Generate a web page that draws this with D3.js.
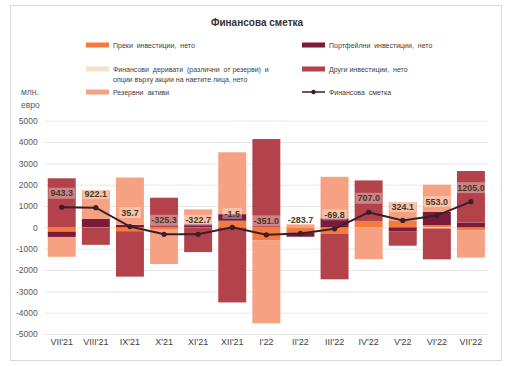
<!DOCTYPE html>
<html><head><meta charset="utf-8">
<script src="https://cdn.jsdelivr.net/npm/d3@7"></script>
<style>
html,body{margin:0;padding:0;background:#fff;}
svg{display:block;font-family:"Liberation Sans",Arial,sans-serif;}
</style></head>
<body>
<svg id="chart" width="507" height="366"></svg>
<script>
const categories = ["VII'21","VIII'21","IX'21","X'21","XI'21","XII'21","I'22","II'22","III'22","IV'22","V'22","VI'22","VII'22"];
const directInv    = [-200, -30, -180, -80, -20, 310, -600, -250, -310, 300, 300, 100, -150];
const portfolioInv = [-250, 400, 120, 0, 150, 310, 0, -190, 420, 0, -200, 620, 220];
const derivatives  = [0, 0, 0, 0, 0, 0, 0, 0, 0, 0, 0, -50, 0];
const otherInv     = [2300, -790, -2130, 1390, -1140, -3520, 4140, 0, -2125, 1900, -660, -1450, 2420];
const reserveAssets= [-930, 1340, 2215, -1640, 690, 2900, -3900, 150, 1950, -1490, 880, 1280, -1270];
const financialAccount = [943.3, 922.1, 35.7, -325.3, -322.7, -1.5, -351.0, -283.7, -69.8, 707.0, 324.1, 553.0, 1205.0];
const yTicks = [-5000,-4000,-3000,-2000,-1000,0,1000,2000,3000,4000,5000];
const seriesNames = ["Преки инвестиции, нето","Портфейлни инвестиции, нето","Финансови деривати (различни от резерви) и опции върху акции на наетите лица, нето","Други инвестиции, нето","Резервни активи"];
const lineName = "Финансова сметка";
const title = "Финансова сметка";
const unitLines = ["млн.","евро"];

const colors = ["#F47A3D","#7A1B3B","#F7E0C9","#B3424A","#F5A182"];
const lineColor = "#3C1D2A";

const svg = d3.select("#chart");
svg.append("rect").attr("x",10.5).attr("y",5.5).attr("width",491).attr("height",355)
  .attr("fill","#fff").attr("stroke","#D9D9D9");

svg.append("text").attr("x",257).attr("y",26).attr("text-anchor","middle")
  .attr("font-size",10).attr("font-weight","bold").attr("fill","#333").text(title);

const x = d3.scaleBand().domain(categories).range([44.7,488]).paddingInner(0.18).paddingOuter(0.09);
const y = d3.scaleLinear().domain([-5000,5000]).range([334,120.7]);

// grid
const yAxis = d3.axisLeft(y).tickValues(yTicks).tickSize(-(488-44.7)).tickFormat(d=>String(d));
const ga = svg.append("g").attr("transform","translate(44.7,0)").call(yAxis);
ga.select(".domain").remove();
ga.selectAll(".tick line").attr("stroke","#E6E6E6");
ga.selectAll(".tick text").attr("x",-7).attr("font-size",8.5).attr("fill","#595959").attr("font-family","Liberation Sans, Arial, sans-serif");

const rows = categories.map((c,i)=>({cat:c, s0:directInv[i], s1:portfolioInv[i], s2:derivatives[i], s3:otherInv[i], s4:reserveAssets[i]}));
const stack = d3.stack().keys(["s0","s1","s2","s3","s4"]).offset(d3.stackOffsetDiverging);
const stacked = stack(rows);

const gBars = svg.append("g");
stacked.forEach((layer,k)=>{
  gBars.append("g").attr("fill",colors[k]).selectAll("rect").data(layer).join("rect")
    .attr("x",d=>x(d.data.cat)).attr("width",x.bandwidth())
    .attr("y",d=>y(Math.max(d[0],d[1]))).attr("height",d=>Math.abs(y(d[0])-y(d[1])));
});

// line
const cx = (c)=>x(c)+x.bandwidth()/2;
const line = d3.line().x((d,i)=>cx(categories[i])).y(d=>y(d));
svg.append("path").datum(financialAccount).attr("d",line).attr("fill","none")
  .attr("stroke",lineColor).attr("stroke-width",2);
svg.append("g").selectAll("circle").data(financialAccount).join("circle")
  .attr("cx",(d,i)=>cx(categories[i])).attr("cy",d=>y(d)).attr("r",2.6).attr("fill",lineColor);

// labels
const gl = svg.append("g");
financialAccount.forEach((v,i)=>{
  const g = gl.append("g");
  const t = g.append("text").attr("x",cx(categories[i])).attr("y",y(v)-14+3.2)
    .attr("text-anchor","middle").attr("font-size",9).attr("font-weight","bold")
    .attr("fill","#4A3A22").text(v.toFixed(1));
  const bb = t.node().getBBox();
  g.insert("rect","text").attr("x",bb.x-2).attr("y",y(v)-14-5.5).attr("width",bb.width+4).attr("height",11)
    .attr("fill","#fff").attr("fill-opacity",0.35);
});

// x labels
const xAxis = d3.axisBottom(x).tickSize(0).tickPadding(0);
const gx = svg.append("g").attr("transform","translate(0,342)").call(xAxis);
gx.select(".domain").remove();
gx.selectAll(".tick text").attr("font-size",9).attr("fill","#404040").attr("dy","0.35em").attr("font-family","Liberation Sans, Arial, sans-serif");

// unit
unitLines.forEach((t,i)=>svg.append("text").attr("x",21).attr("y",95+i*12.5).attr("font-size",8.5).attr("fill","#595959").text(t));

// legend
const leg = svg.append("g").attr("font-size",7).attr("fill","#404040");
const legItems = [
  {k:0,x:86,y:45,lines:["Преки  инвестиции,  нето"]},
  {k:1,x:302,y:45,lines:["Портфейлни  инвестиции,  нето"]},
  {k:2,x:86,y:69,lines:["Финансови  деривати  (различни  от резерви)  и","опции върху акции на наетите лица, нето"]},
  {k:3,x:302,y:69,lines:["Други инвестиции,  нето"]},
  {k:4,x:86,y:92,lines:["Резервни  активи"]}
];
legItems.forEach(it=>{
  leg.append("rect").attr("x",it.x).attr("y",it.y-2.5).attr("width",23).attr("height",5).attr("fill",colors[it.k]);
  it.lines.forEach((l,j)=>leg.append("text").attr("x",it.x+27).attr("y",it.y+2.5+j*10).attr("fill","#404040").attr("xml:space","preserve").style("white-space","pre").text(l));
});
leg.append("line").attr("x1",302).attr("x2",325).attr("y1",92).attr("y2",92).attr("stroke",lineColor).attr("stroke-width",1.5);
leg.append("circle").attr("cx",313.5).attr("cy",92).attr("r",2.2).attr("fill",lineColor);
leg.append("text").attr("x",329).attr("y",94.5).attr("fill","#404040").style("white-space","pre").text("Финансова  сметка");
</script>
</body></html>
